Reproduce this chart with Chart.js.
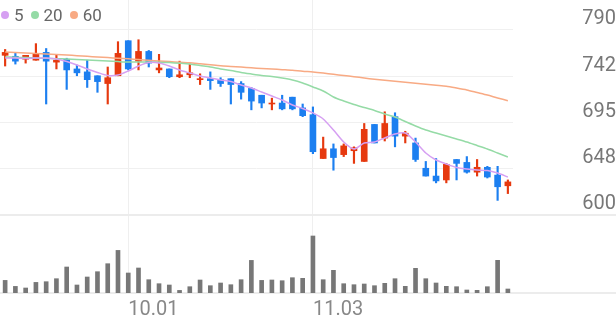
<!DOCTYPE html>
<html>
<head>
<meta charset="utf-8">
<script src="https://cdn.jsdelivr.net/npm/chart.js@4"></script>
<style>
    html, body { margin: 0; padding: 0; background: #fff; }
    #wrap { position: relative; width: 616px; height: 321px; }
    #legend { position: absolute; left: 1px; top: 5px; display: flex; align-items: center;
              font-family: Roboto, sans-serif; font-size: 17px; color: #666; line-height: 20px; }
    #legend span.dot { display: inline-block; width: 8px; height: 8px; border-radius: 50%; margin-right: 5px; }
    #legend span.txt { margin-right: 7px; }
</style>
</head>
<body>
<div id="wrap">
    <canvas id="chart" width="616" height="321"></canvas>
    <div id="legend"></div>
</div>
<script>
// 날짜 (거래일)
const dates = [
    '09.15', '09.16', '09.17', '09.18', '09.19', '09.22', '09.23', '09.24', '09.25', '09.26', '09.29', '09.30',
    '10.01', '10.02', '10.10', '10.13', '10.14', '10.15', '10.16', '10.17', '10.20', '10.21', '10.22', '10.23',
    '10.24', '10.27', '10.28', '10.29', '10.30', '10.31',
    '11.03', '11.04', '11.05', '11.06', '11.07', '11.10', '11.11', '11.12', '11.13', '11.14', '11.17', '11.18',
    '11.19', '11.20', '11.21', '11.24', '11.25', '11.26', '11.27', '11.28'
];

// 시가 / 고가 / 저가 / 종가
const openP  = [764, 763, 760, 759, 767, 757, 760, 750, 747, 743, 735, 743, 779, 758, 768, 749, 750, 742, 744, 739,
                740, 739, 740, 735, 730, 723, 714, 715, 721, 710, 703, 658, 668, 662, 666, 655, 693, 679, 701, 681,
                674, 648, 640, 636, 657, 654, 644, 649, 641, 630];
const highP  = [770, 766, 764, 776, 771, 764, 761, 754, 759, 743, 752, 778, 779, 780, 769, 765, 750, 758, 755, 745,
                747, 741, 740, 737, 731, 723, 720, 723, 721, 714, 711, 680, 673, 673, 670, 694, 693, 706, 705, 686,
                679, 655, 658, 653, 657, 660, 657, 650, 650, 636];
const lowP   = [753, 755, 756, 759, 714, 750, 729, 743, 731, 726, 714, 743, 749, 749, 752, 746, 741, 741, 741, 734,
                729, 732, 714, 719, 708, 710, 708, 708, 708, 701, 663, 658, 646, 660, 653, 655, 674, 676, 670, 674,
                655, 640, 633, 633, 636, 643, 640, 638, 615, 622];
const closeP = [767, 758, 764, 766, 758, 759, 749, 746, 739, 737, 741, 766, 750, 768, 756, 751, 742, 744, 746, 740,
                738, 735, 734, 726, 717, 715, 715, 709, 709, 702, 665, 668, 659, 671, 669, 688, 674, 694, 681, 684,
                657, 640, 635, 652, 653, 644, 649, 639, 629, 634];

// 이동평균선
const ma5  = [761.2, 761.2, 760.7, 761.2, 761.2, 760.2, 757.6, 754.1, 750.0, 746.4, 743.3, 743.8, 747.9, 753.0, 756.6,
              756.1, 753.0, 748.9, 745.8, 742.8, 740.7, 738.7, 737.1, 733.5, 730.4, 726.3, 722.2, 718.1, 713.0, 709.4,
              704.8, 698.6, 687.3, 675.0, 667.8, 673.9, 675.0, 679.1, 683.2, 684.2, 675.0, 663.7, 656.5, 652.4, 648.8,
              647.2, 646.2, 645.7, 643.1, 639.0];
const ma20 = [762.3, 762.0, 761.7, 761.2, 760.9, 760.5, 760.2, 759.7, 759.2, 758.7, 758.2, 757.6, 757.1, 757.1, 757.1,
              756.9, 756.5, 755.9, 755.1, 753.5, 752.0, 750.0, 748.4, 746.4, 744.8, 743.3, 742.2, 740.7, 738.7, 735.6,
              731.5, 727.4, 721.2, 717.1, 713.5, 710.4, 707.3, 703.7, 700.6, 696.0, 691.4, 687.3, 684.2, 681.1, 678.1,
              675.0, 671.4, 667.8, 663.7, 659.6];
const ma60 = [767.4, 766.9, 766.4, 765.8, 765.4, 764.8, 764.3, 763.6, 763.0, 762.3, 761.7, 761.0, 760.4, 759.7, 758.9,
              758.2, 757.6, 756.9, 756.3, 755.3, 754.3, 753.3, 752.6, 751.9, 751.2, 750.5, 750.0, 749.3, 748.6, 747.6,
              746.9, 745.8, 744.5, 743.3, 742.0, 740.7, 739.4, 738.3, 737.3, 736.3, 735.3, 734.2, 733.2, 732.2, 730.4,
              728.4, 725.8, 723.2, 720.2, 717.4];

// 거래량
const volume = [126, 66, 50, 106, 113, 143, 260, 80, 160, 213, 293, 426, 200, 250, 133, 93, 80, 26, 63, 130,
                73, 100, 83, 133, 326, 126, 130, 123, 153, 147, 570, 133, 227, 93, 83, 90, 73, 97, 143, 67,
                247, 143, 100, 67, 63, 30, 27, 63, 327, 40];

// 가격축 눈금
const priceTicks = [600, 647.5, 695, 742.5, 790];
const priceTickLabels = ['600', '648', '695', '742', '790'];

const maNames = ['5', '20', '60'];
const maColors = ['#d6a0f2', '#95dba6', '#f8aa84'];
const upColor = '#e6390f';
const downColor = '#1c7ff0';

// 월이 바뀌는 날짜만 라벨 표시
const isMonthStart = dates.map((d, i) => i > 0 && d.slice(0, 2) !== dates[i - 1].slice(0, 2));

// 범례
document.getElementById('legend').innerHTML = maNames.map((name, i) => `
    <span class="dot" style="background:${maColors[i]}"></span><span class="txt">${name}</span>
`).join('');

// 가로 전체 기준선
const fullLines = {
    id: 'fullLines',
    beforeDatasetsDraw(chart) {
        const { ctx, scales } = chart;
        ctx.save();
        ctx.strokeStyle = '#ececec';
        ctx.lineWidth = 2;
        [scales.y.getPixelForValue(priceTicks[0]), scales.yVol.getPixelForValue(0)].forEach(y => {
            ctx.beginPath();
            ctx.moveTo(0, y);
            ctx.lineTo(chart.width, y);
            ctx.stroke();
        });
        ctx.restore();
    }
};

const candleColors = openP.map((o, i) => closeP[i] >= o ? upColor : downColor);

new Chart(document.getElementById('chart'), {
    type: 'bar',
    data: {
        labels: dates,
        datasets: [
            ...[ma5, ma20, ma60].map((ma, i) => ({
                type: 'line',
                label: maNames[i],
                data: ma,
                borderColor: maColors[i],
                borderWidth: 1.5,
                pointRadius: 0,
                tension: 0.25,
                yAxisID: 'y',
                order: 0
            })),
            {
                label: 'body',
                data: openP.map((o, i) => [o, closeP[i]]),
                backgroundColor: candleColors,
                barThickness: 6,
                grouped: false,
                yAxisID: 'y',
                order: 1
            },
            {
                label: 'wick',
                data: lowP.map((l, i) => [l, highP[i]]),
                backgroundColor: candleColors,
                barThickness: 1.5,
                grouped: false,
                yAxisID: 'y',
                order: 2
            },
            {
                label: 'volume',
                data: volume,
                backgroundColor: '#777777',
                barThickness: 4,
                grouped: false,
                yAxisID: 'yVol',
                order: 3
            }
        ]
    },
    options: {
        responsive: false,
        animation: false,
        devicePixelRatio: 1,
        layout: { padding: 0 },
        plugins: { legend: { display: false }, tooltip: { enabled: false } },
        scales: {
            x: {
                offset: true,
                grid: {
                    offset: false,
                    drawTicks: false,
                    color: ctx => isMonthStart[ctx.index] ? '#efefef' : 'rgba(0,0,0,0)'
                },
                border: { display: false },
                ticks: {
                    autoSkip: false,
                    maxRotation: 0,
                    align: 'start',
                    padding: 5,
                    color: '#888',
                    font: { family: 'Roboto', size: 20 },
                    callback: (v, i) => isMonthStart[i] ? dates[i] : ''
                },
                afterFit: s => { s.height = 28; s.paddingLeft = 0; s.paddingRight = 0; }
            },
            y: {
                position: 'right',
                min: 519.89,
                max: 820.81,
                afterBuildTicks: s => { s.ticks = priceTicks.map(v => ({ value: v })); },
                grid: { color: '#f0f0f0', drawTicks: true, tickLength: 64, tickColor: 'rgba(0,0,0,0)' },
                border: { display: false },
                ticks: {
                    crossAlign: 'far',
                    padding: 2,
                    labelOffset: -10.5,
                    color: '#777',
                    font: { family: 'Roboto', size: 20 },
                    callback: (v, i) => priceTickLabels[i]
                },
                afterFit: s => { s.width = 103; s.paddingTop = 0; s.paddingBottom = 0; }
            },
            yVol: {
                position: 'right',
                display: false,
                min: 0,
                max: 2930
            }
        }
    },
    plugins: [fullLines]
});
</script>
</body>
</html>
